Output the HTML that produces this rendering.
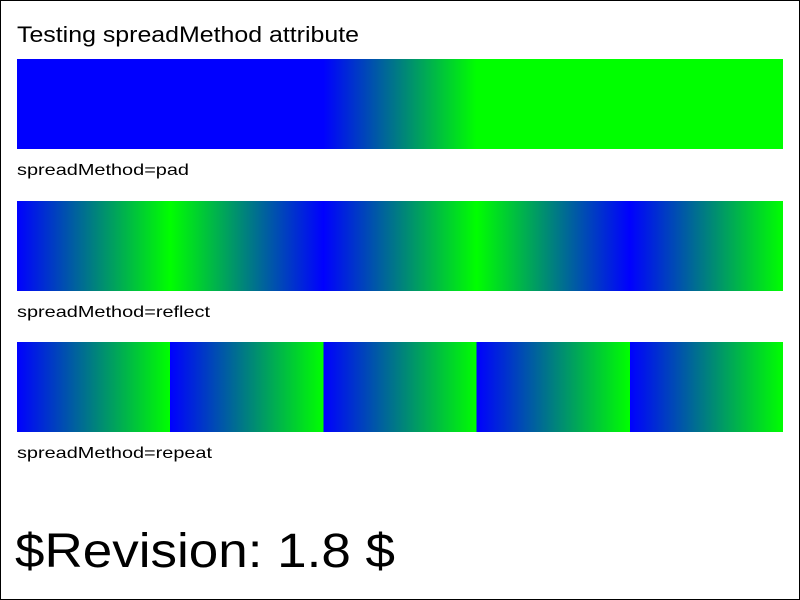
<!DOCTYPE html>
<html><head><meta charset="utf-8"><style>
html,body{margin:0;padding:0;background:#fff;}
svg{display:block;font-family:"Liberation Sans",Arial,sans-serif;}
</style></head><body>
<svg width="800" height="600" viewBox="0 0 800 600">
<defs>
<linearGradient id="gpad" x1="0.4" y1="0" x2="0.6" y2="0" spreadMethod="pad"><stop offset="0" stop-color="#0000ff"/><stop offset="1" stop-color="#00ff00"/></linearGradient>
<linearGradient id="gref" x1="0.4" y1="0" x2="0.6" y2="0" spreadMethod="reflect"><stop offset="0" stop-color="#0000ff"/><stop offset="1" stop-color="#00ff00"/></linearGradient>
<linearGradient id="grep" x1="0.4" y1="0" x2="0.6" y2="0" spreadMethod="repeat"><stop offset="0" stop-color="#0000ff"/><stop offset="1" stop-color="#00ff00"/></linearGradient>
</defs>
<rect x="0.5" y="0.5" width="799" height="599" fill="#fff" stroke="#000"/>
<text x="17" y="42" font-size="22" textLength="342" lengthAdjust="spacingAndGlyphs">Testing spreadMethod attribute</text>
<rect x="17" y="59" width="766" height="90" fill="url(#gpad)"/>
<text x="17" y="175" font-size="16" textLength="172" lengthAdjust="spacingAndGlyphs">spreadMethod=pad</text>
<rect x="17" y="201" width="766" height="90" fill="url(#gref)"/>
<text x="17" y="317" font-size="16" textLength="193" lengthAdjust="spacingAndGlyphs">spreadMethod=reflect</text>
<rect x="17" y="342" width="766" height="90" fill="url(#grep)"/>
<text x="17" y="458" font-size="16" textLength="195" lengthAdjust="spacingAndGlyphs">spreadMethod=repeat</text>
<text x="15" y="567" font-size="48" textLength="380" lengthAdjust="spacingAndGlyphs">$Revision: 1.8 $</text>
</svg>
</body></html>
